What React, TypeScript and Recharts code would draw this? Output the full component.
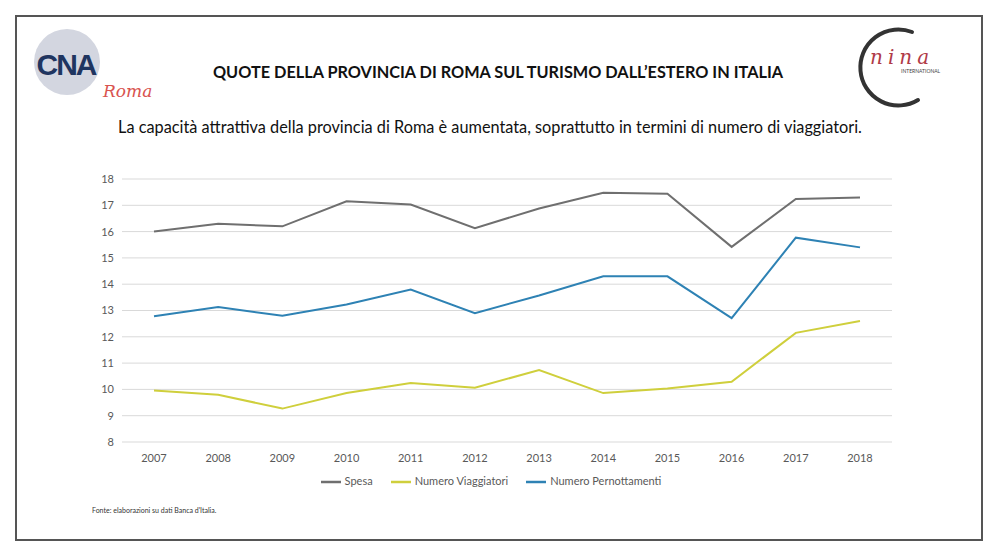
import { CartesianGrid, Legend, Line, LineChart, XAxis, YAxis } from 'recharts'

const years = ['2007', '2008', '2009', '2010', '2011', '2012', '2013', '2014', '2015', '2016', '2017', '2018']
const spesa = [16.0, 16.3, 16.2, 17.15, 17.03, 16.13, 16.88, 17.48, 17.44, 15.42, 17.24, 17.3]
const viaggiatori = [9.96, 9.8, 9.27, 9.86, 10.24, 10.06, 10.74, 9.86, 10.03, 10.29, 12.15, 12.6]
const pernottamenti = [12.78, 13.13, 12.8, 13.23, 13.8, 12.9, 13.57, 14.3, 14.3, 12.71, 15.77, 15.4]
const yTicks = [8, 9, 10, 11, 12, 13, 14, 15, 16, 17, 18]
const seriesNames = ['Spesa', 'Numero Viaggiatori', 'Numero Pernottamenti']

const data = years.map((year, i) => ({
  year,
  spesa: spesa[i],
  viaggiatori: viaggiatori[i],
  pernottamenti: pernottamenti[i],
}))

const font = 'Lato, "Open Sans", sans-serif'
const tickStyle = { fill: '#595959', fontSize: 11, fontFamily: font }

function Logos() {
  return (
    <svg width={1000} height={130} style={{ position: 'absolute', left: 0, top: 0 }}>
      {/* CNA Roma */}
      <circle cx={67} cy={62} r={33} fill="#d3d6e0" />
      <text x={66} y={75} textAnchor="middle" fontFamily="'Liberation Sans', Arial" fontWeight={700}
        fontSize={30} fill="#1f3560" letterSpacing={-2}>CNA</text>
      <text x={103} y={97} fontFamily="'DejaVu Serif', serif" fontStyle="italic" fontSize={17} fill="#d9534f">Roma</text>
      {/* nina international */}
      <path d="M 912 32 A 38 38 0 1 0 918 100" fill="none" stroke="#333" strokeWidth={4} strokeLinecap="round" />
      <text x={870} y={64} fontFamily="'DejaVu Serif', serif" fontStyle="italic" fontSize={20} fill="#b03a48"
        letterSpacing={5}>nina</text>
      <text x={901} y={73} fontFamily={font} fontSize={5} fill="#444">INTERNATIONAL</text>
    </svg>
  )
}

export default function App() {
  return (
    <div style={{ position: 'absolute', left: 0, top: 0, width: 1000, height: 557, background: '#fff' }}>
      <LineChart
        width={1000}
        height={557}
        data={data}
        margin={{ top: 179, right: 108, bottom: 65, left: 92 }}
        style={{ position: 'absolute', left: 0, top: 0 }}
      >
        <CartesianGrid vertical={false} stroke="#d9d9d9" strokeWidth={1} />
        <XAxis
          dataKey="year"
          axisLine={false}
          tickLine={false}
          padding={{ left: 32, right: 32 }}
          tick={tickStyle}
          tickMargin={6}
          height={30}
        />
        <YAxis
          domain={[8, 18]}
          ticks={yTicks}
          axisLine={false}
          tickLine={false}
          tick={tickStyle}
          width={30}
        />
        <Legend
          iconType="plainline"
          iconSize={20}
          itemSorter={(item: { value: string }) => seriesNames.indexOf(item.value)}
          wrapperStyle={{ top: 472, left: 100, width: 800, fontFamily: font, fontSize: 11 }}
          formatter={(value) => <span style={{ color: '#595959', paddingRight: 8 }}>{value}</span>}
        />
        <Line name={seriesNames[0]} dataKey="spesa" stroke="#6f6f6f" strokeWidth={2} dot={false} isAnimationActive={false} />
        <Line name={seriesNames[1]} dataKey="viaggiatori" stroke="#cfcf3c" strokeWidth={2} dot={false} isAnimationActive={false} />
        <Line name={seriesNames[2]} dataKey="pernottamenti" stroke="#2e82b4" strokeWidth={2} dot={false} isAnimationActive={false} />
      </LineChart>

      {/* frame */}
      <div style={{ position: 'absolute', left: 15, top: 15, width: 968, height: 526, border: '2px solid #555', boxSizing: 'border-box', pointerEvents: 'none' }} />

      <Logos />

      <div style={{ position: 'absolute', left: 0, top: 62, width: 996, textAlign: 'center', fontFamily: font, fontWeight: 700, fontSize: 16.3, color: '#111' }}>
        QUOTE DELLA PROVINCIA DI ROMA SUL TURISMO DALL’ESTERO IN ITALIA
      </div>
      <div style={{ position: 'absolute', left: 0, top: 117, width: 980, textAlign: 'center', fontFamily: font, fontSize: 16.3, color: '#111' }}>
        La capacità attrattiva della provincia di Roma è aumentata, soprattutto in termini di numero di viaggiatori.
      </div>
      <div style={{ position: 'absolute', left: 92, top: 506, fontFamily: font, fontSize: 7, color: '#333' }}>
        Fonte: elaborazioni su dati Banca d'Italia.
      </div>
    </div>
  )
}
